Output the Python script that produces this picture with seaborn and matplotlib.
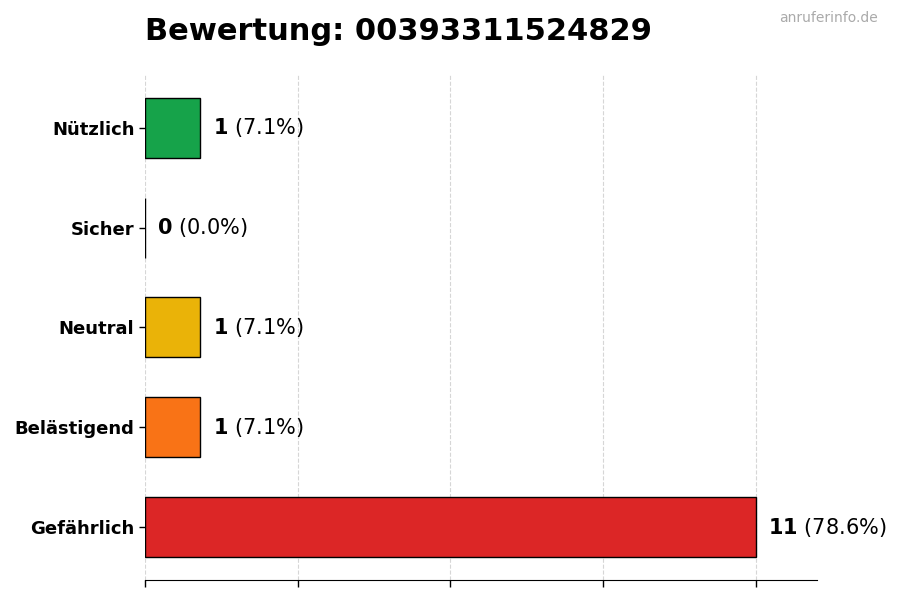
import numpy as np
import pandas as pd
import matplotlib
matplotlib.use("Agg")
import matplotlib.pyplot as plt
import seaborn as sns

# Data
categories = ["Nützlich", "Sicher", "Neutral", "Belästigend", "Gefährlich"]
counts = [1, 0, 1, 1, 11]
colors = ["#16a34a", "#9ca3af", "#eab308", "#f97316", "#dc2626"]
title = "Bewertung: 00393311524829"
watermark = "anruferinfo.de"

total = sum(counts)
df = pd.DataFrame({"Kategorie": categories, "Anzahl": counts})

sns.set_style("white")
plt.rcParams['font.family'] = ['DejaVu Sans']
plt.rcParams['text.color'] = 'black'
plt.rcParams['xtick.color'] = 'black'
plt.rcParams['ytick.color'] = 'black'

fig = plt.figure(figsize=(9, 6), dpi=100)
ax = fig.add_axes([0.161, 0.0333, 0.747, 0.842])

sns.barplot(data=df, y="Kategorie", x="Anzahl", hue="Kategorie",
            palette=colors, width=0.6, edgecolor="black", linewidth=1,
            saturation=1, legend=False, ax=ax, orient="h")

max_val = max(counts)
ax.set_xlim(0, max_val * 1.1)
n = len(categories)
pad = (n - 1 + 0.6) * 0.05
ax.set_ylim(n - 1 + 0.3 + pad, -0.3 - pad)
ax.set_xticks(np.linspace(0, max_val, 5))
ax.set_xticklabels([])
ax.set_xlabel("")
ax.set_ylabel("")
ax.grid(axis="x", linestyle="--", color="#cccccc", alpha=0.8, linewidth=0.8)
ax.set_axisbelow(True)
ax.tick_params(axis="x", length=5, width=1, color="black", bottom=True)
ax.tick_params(axis="y", length=4, width=1, color="black", left=True)
for lab in ax.get_yticklabels():
    lab.set_fontweight("bold")
    lab.set_fontsize(13)
    lab.set_color("black")

sns.despine(ax=ax, left=True)
ax.spines["bottom"].set_color("black")

# Value labels
for i, v in enumerate(counts):
    pct = v / total * 100
    ax.text(v + max_val * 0.02, i, rf"$\mathbf{{{v}}}$ ({pct:.1f}%)",
            va="center", ha="left", fontsize=15, color="black")

fig.text(0.161, 0.947, title, fontsize=22, fontweight="bold", ha="left", va="center", color="black")
fig.text(0.975, 0.97, watermark, fontsize=10, color="#aaaaaa", ha="right", va="center")

fig.savefig("out.png", dpi=100)
